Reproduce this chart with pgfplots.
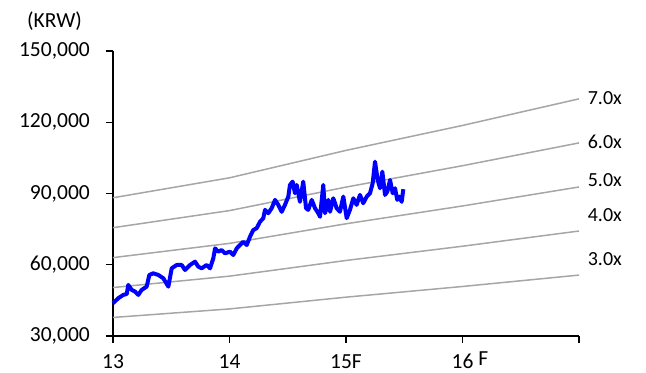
\documentclass[border=0pt]{standalone}
\usepackage{fontspec}
\setmainfont{Carlito}
\usepackage{pgfplots}
\pgfplotsset{compat=1.18}
\usepackage{pgfplotstable}

\definecolor{bandgray}{RGB}{166,166,166}
\definecolor{priceblue}{RGB}{0,0,255}

% P/E band lines: multiples of forward EPS at each year mark
\pgfplotstableread{
x    b3     b4     b5     b6      b7
0    37800  50400  63000  75600   88200
1    41400  55200  69000  82800   96600
2    46350  61800  77250  92700   108150
3    50850  67800  84750  101700  118650
4    55650  74200  92750  111300  129850
}\bands

% share price (KRW)
\pgfplotstableread{
x      p
0.000  43800
0.045  45900
0.088  47300
0.118  47700
0.131  51500
0.161  49400
0.189  48700
0.217  47300
0.246  49400
0.289  50800
0.312  55700
0.346  56400
0.389  55700
0.432  54300
0.475  50800
0.504  58500
0.547  59900
0.590  59900
0.618  57800
0.661  59900
0.704  61300
0.732  59200
0.761  58500
0.804  59900
0.833  58500
0.861  62700
0.876  66900
0.904  65500
0.933  66200
0.961  64800
1.004  65500
1.033  64100
1.062  66900
1.090  68300
1.119  69700
1.148  68300
1.176  71800
1.204  74600
1.233  75400
1.262  78100
1.290  79600
1.305  83100
1.333  81700
1.362  83800
1.391  87300
1.419  85200
1.448  82300
1.476  85200
1.505  88700
1.519  93600
1.542  95000
1.562  90100
1.577  93600
1.605  86500
1.633  95000
1.657  83800
1.676  83100
1.706  87300
1.734  83800
1.762  81700
1.777  80200
1.805  93600
1.820  81700
1.848  87300
1.863  82300
1.891  88000
1.920  83800
1.948  82300
1.977  88700
2.006  79600
2.034  83100
2.063  88000
2.091  85200
2.120  89400
2.148  85900
2.178  88700
2.206  90100
2.229  94300
2.249  103400
2.272  95700
2.292  92200
2.312  99200
2.335  89400
2.355  90800
2.378  95700
2.401  90100
2.421  92200
2.440  87300
2.458  88700
2.478  86500
2.492  91800
}\price

\begin{document}
\begin{tikzpicture}
\path[use as bounding box] (-113bp,-37bp) rectangle (533bp,336bp);
\begin{axis}[
  scale only axis,
  width=466bp, height=285bp,
  xmin=0, xmax=4,
  ymin=30000, ymax=150000,
  axis x line*=bottom,
  axis y line*=left,
  axis line style={line width=1.2bp, black},
  tick style={line width=1.2bp, black},
  tick align=outside,
  major tick length=7bp,
  xtick={0,1,2,3,4},
  xticklabels={13,14,15F,{16\rlap{\hspace{5bp}\smash{\raisebox{3.5bp}{F}}}},{}},
  ytick={30000,60000,90000,120000,150000},
  scaled y ticks=false,
  /pgf/number format/.cd, fixed, 1000 sep={,}, assume math mode=true,
  /pgfplots/.cd,
  tick label style={font=\fontsize{21.5bp}{24bp}\selectfont, inner sep=0pt},
  yticklabel style={anchor=east, xshift=-16bp},
  xticklabel style={anchor=north, yshift=-11bp},
  clip=false,
]
\foreach \c in {b3,b4,b5,b6,b7}{
  \addplot[bandgray, line width=1.5bp] table[x=x, y=\c] {\bands};
}
\addplot[priceblue, line width=4bp, line join=round] table[x=x, y=p] {\price};

\begin{scope}[every node/.style={anchor=west, inner sep=0pt, font=\fontsize{20bp}{22bp}\selectfont}]
\node at (axis cs:4.074,130100) {7.0x};
\node at (axis cs:4.074,111800) {6.0x};
\node at (axis cs:4.074,95700) {5.0x};
\node at (axis cs:4.074,80900) {4.0x};
\node at (axis cs:4.074,62400) {3.0x};
\end{scope}
\node[font=\fontsize{21.5bp}{24bp}\selectfont, inner sep=0pt] at ([shift={(-58.5bp,30bp)}]rel axis cs:0,1) {(KRW)};
\end{axis}
\end{tikzpicture}
\end{document}
